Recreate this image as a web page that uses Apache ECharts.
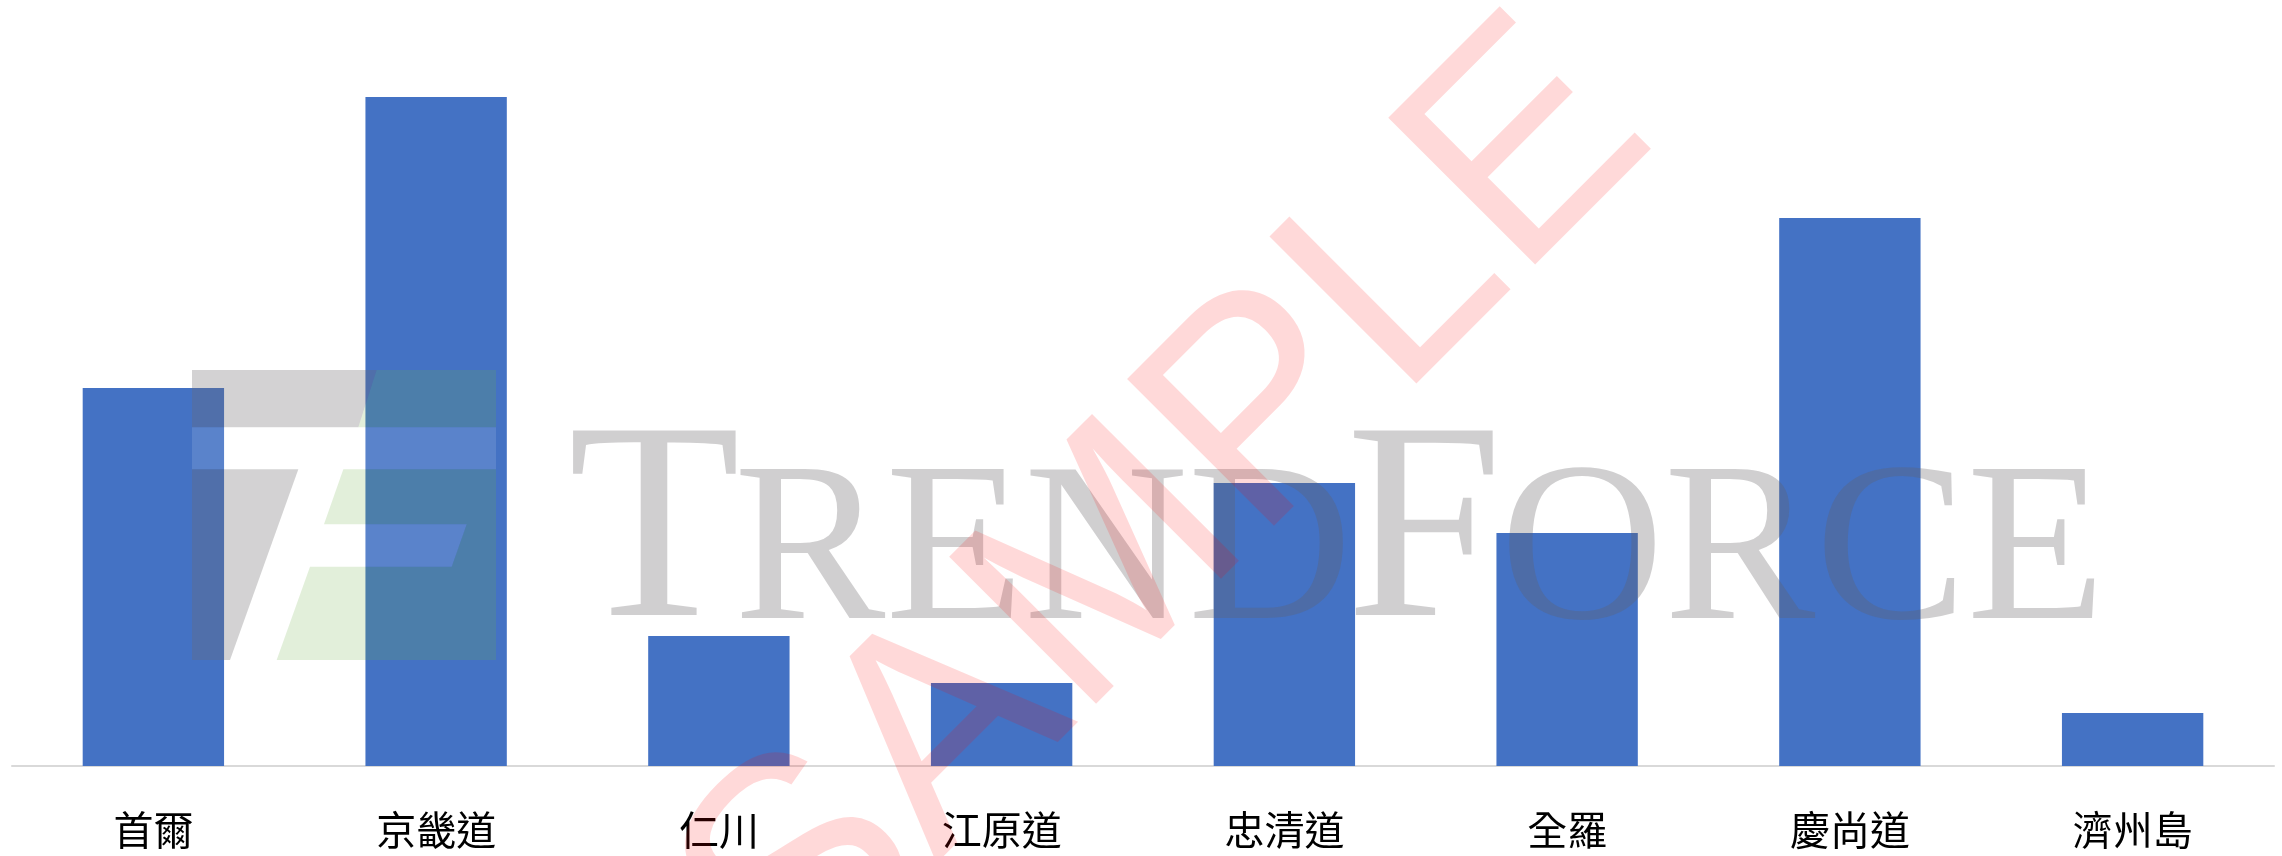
<!DOCTYPE html>
<html>
<head>
<meta charset="utf-8">
<script src="https://cdn.jsdelivr.net/npm/echarts@6/dist/echarts.min.js"></script>
<style>
  html, body { margin: 0; padding: 0; background: #fff; }
  #chart { width: 2282px; height: 856px; }
</style>
</head>
<body>
<div id="chart"></div>
<script>
const regions = ['首爾', '京畿道', '仁川', '江原道', '忠清道', '全羅', '慶尚道', '濟州島'];
const values = [37.8, 66.9, 13.0, 8.3, 28.3, 23.3, 54.8, 5.3];

const chart = echarts.init(document.getElementById('chart'));

// watermark overlay (logo + text), drawn on top of the bars
const logoGray = 'rgba(110,105,110,0.3)';
const logoGreen = 'rgba(112,173,71,0.2)';
const logoWhite = 'rgba(255,255,255,0.12)';
const markGray = 'rgba(100,95,100,0.3)';
const serif = '"Liberation Serif", "DejaVu Serif", serif';

const lx = (px) => 170 + px / 3;
const ly = (py) => 350 + py / 3;
const poly = (pts, fill) => ({
  type: 'polygon', z: 100, silent: true,
  shape: { points: pts.map(p => [lx(p[0]), ly(p[1])]) },
  style: { fill: fill }
});

const watermark = [
  poly([[66, 60], [620, 60], [565, 232], [66, 232]], logoGray),
  poly([[66, 358], [385, 358], [180, 930], [66, 930]], logoGray),
  poly([[620, 60], [978, 60], [978, 232], [565, 232]], logoGreen),
  poly([[520, 358], [978, 358], [978, 930], [320, 930], [420, 650], [845, 650], [890, 523], [462, 523]], logoGreen),
  poly([[66, 232], [978, 232], [978, 358], [66, 358]], logoWhite),
  poly([[462, 523], [890, 523], [845, 650], [420, 650]], logoWhite),
  { type: 'text', z: 100, silent: true, x: 568, y: 541,
    style: { text: 'T', font: '282px ' + serif, fill: markGray, align: 'left', verticalAlign: 'middle' } },
  { type: 'text', z: 100, silent: true, x: 734, y: 558,
    style: { text: 'REND', font: '227px ' + serif, fill: markGray, align: 'left', verticalAlign: 'middle' } },
  { type: 'text', z: 100, silent: true, x: 1346, y: 541,
    style: { text: 'F', font: '282px ' + serif, fill: markGray, align: 'left', verticalAlign: 'middle' } },
  { type: 'text', z: 100, silent: true, x: 1500, y: 558,
    style: { text: 'ORCE', font: '227px ' + serif, fill: markGray, align: 'left', verticalAlign: 'middle' } },
  { type: 'text', z: 101, silent: true, x: 1168, y: 514, rotation: Math.PI / 4,
    style: { text: 'SAMPLE', font: '302px "Liberation Sans", Arial, sans-serif', fill: 'rgba(255,0,0,0.15)', align: 'center', verticalAlign: 'middle' } }
];

const option = {
  animation: false,
  backgroundColor: '#fff',
  grid: { left: 12, right: 8, top: 66, bottom: 90, containLabel: false },
  xAxis: {
    type: 'category',
    data: regions,
    axisLine: { lineStyle: { color: '#d9d9d9', width: 2 } },
    axisTick: { show: false },
    axisLabel: {
      color: '#000',
      fontSize: 40,
      margin: 44,
      fontFamily: '"Noto Sans CJK TC", "Noto Sans CJK SC", sans-serif'
    }
  },
  yAxis: {
    type: 'value',
    min: 0,
    max: 70,
    show: false,
    splitLine: { show: false }
  },
  series: [{
    type: 'bar',
    data: values,
    barWidth: '50%',
    itemStyle: { color: '#4472c4' }
  }],
  graphic: watermark
};

chart.setOption(option);
</script>
</body>
</html>
